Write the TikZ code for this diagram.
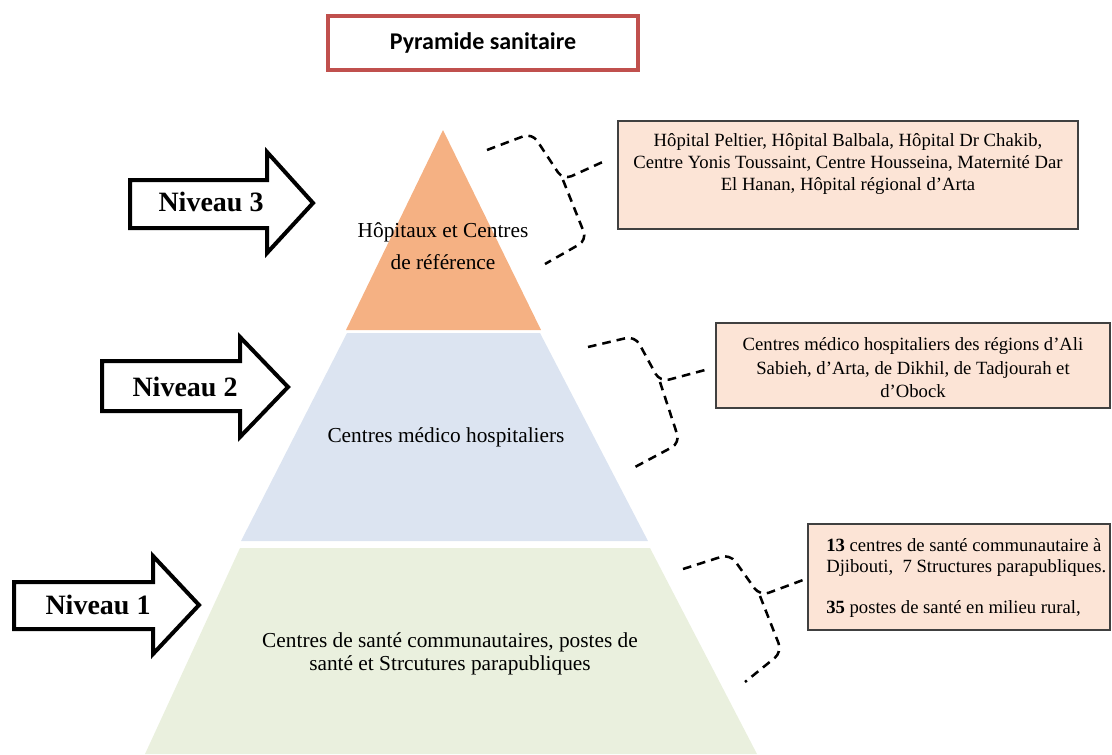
\documentclass[tikz,border=0pt]{standalone}
\usepackage{fontspec}
\setmainfont{Liberation Serif}
\newfontfamily\titlefont{Carlito}
\definecolor{titlered}{HTML}{C0504D}
\definecolor{tierorange}{HTML}{F5B183}
\definecolor{tierblue}{HTML}{DCE4F1}
\definecolor{tiergreen}{HTML}{EAF0DE}
\definecolor{boxfill}{HTML}{FCE4D6}
\begin{document}
\begin{tikzpicture}[x=0.75pt,y=-0.75pt,
  lvl/.style={fill=white, draw=black, line width=3pt, line join=miter},
  lvltext/.style={font=\fontsize{21}{25}\selectfont\bfseries, inner sep=0pt},
  tiertext/.style={font=\fontsize{16}{24}\selectfont, align=center, inner sep=0pt},
  infobox/.style={draw=black!75, line width=1.1pt, fill=boxfill, inner sep=0pt},
  infotext/.style={font=\fontsize{14}{16.5}\selectfont, inner sep=0pt},
  bracket/.style={dash pattern=on 6.5pt off 4.5pt, line width=1.9pt, rounded corners=7pt}]

\useasboundingbox (0,0) rectangle (1112,754);

% title
\node[draw=titlered, line width=3pt, minimum width=232.5pt, minimum height=40.5pt,
      font=\titlefont\bfseries\fontsize{18}{22}\selectfont] (title) at (483,43) {Pyramide sanitaire};

% pyramid tiers
\fill[tierorange] (443,130) -- (541,330) -- (346,330) -- cycle;
\fill[tierblue] (347,333) -- (540,333) -- (648,541) -- (241,541) -- cycle;
\fill[tiergreen] (240,548) -- (650,548) -- (757,754) -- (145,754) -- cycle;

\node[tiertext] (tier3) at (443,246) {Hôpitaux et Centres\\de référence};
\node[tiertext] (tier2) at (446,437) {Centres médico hospitaliers};
\node[tiertext, font=\fontsize{16}{17.5}\selectfont] (tier1) at (450,654)
  {Centres de santé communautaires, postes de\\santé et Strcutures parapubliques};

% level arrows
\draw[lvl] (130,180) -- (267,180) -- (267,152) -- (313,203) -- (267,253) -- (267,228) -- (130,228) -- cycle;
\node[lvltext] (lvl3) at (211,202) {Niveau 3};
\draw[lvl] (102,361) -- (240,361) -- (240,337) -- (288,387) -- (240,437) -- (240,411) -- (102,411) -- cycle;
\node[lvltext] (lvl2) at (185,387) {Niveau 2};
\draw[lvl] (14,582) -- (153,582) -- (153,556) -- (199,605) -- (153,654) -- (153,629) -- (14,629) -- cycle;
\node[lvltext] (lvl1) at (98,605) {Niveau 1};

% detail boxes
\node[infobox, minimum width=345pt, minimum height=81pt] (box3) at (848,175) {};
\node[infotext, align=center, anchor=north] (text3) at (848,133)
  {Hôpital Peltier, Hôpital Balbala, Hôpital Dr Chakib,\\
   Centre Yonis Toussaint, Centre Housseina, Maternité Dar\\
   El Hanan, Hôpital régional d’Arta};

\node[infobox, minimum width=295.5pt, minimum height=63.75pt] (box2) at (913,365.5) {};
\node[infotext, align=center, font=\fontsize{14}{17.6}\selectfont] (text2) at (913,368)
  {Centres médico hospitaliers des régions d’Ali\\
   Sabieh, d’Arta, de Dikhil, de Tadjourah et\\
   d’Obock};

\node[infobox, minimum width=226.5pt, minimum height=79.5pt] (box1) at (959,577) {};
\node[infotext, align=left, anchor=north west, font=\fontsize{14}{16}\selectfont] (text1) at (826,538)
  {\textbf{13} centres de santé communautaire à\\
   Djibouti,\ \ 7 Structures parapubliques.\\[15pt]
   \textbf{35} postes de santé en milieu rural,};

% dashed braces
\draw[bracket] (487,150) -- (532,133) -- (563,180) -- (607,160);
\draw[bracket] (563,180) -- (587,240) -- (545,264);
\draw[bracket] (588,347) -- (635,336) -- (660,382) -- (705,370);
\draw[bracket] (660,382) -- (680,443) -- (635,467);
\draw[bracket] (683,569) -- (730,554) -- (760,596) -- (803,580);
\draw[bracket] (760,596) -- (782,652) -- (745,682);
\end{tikzpicture}
\end{document}
